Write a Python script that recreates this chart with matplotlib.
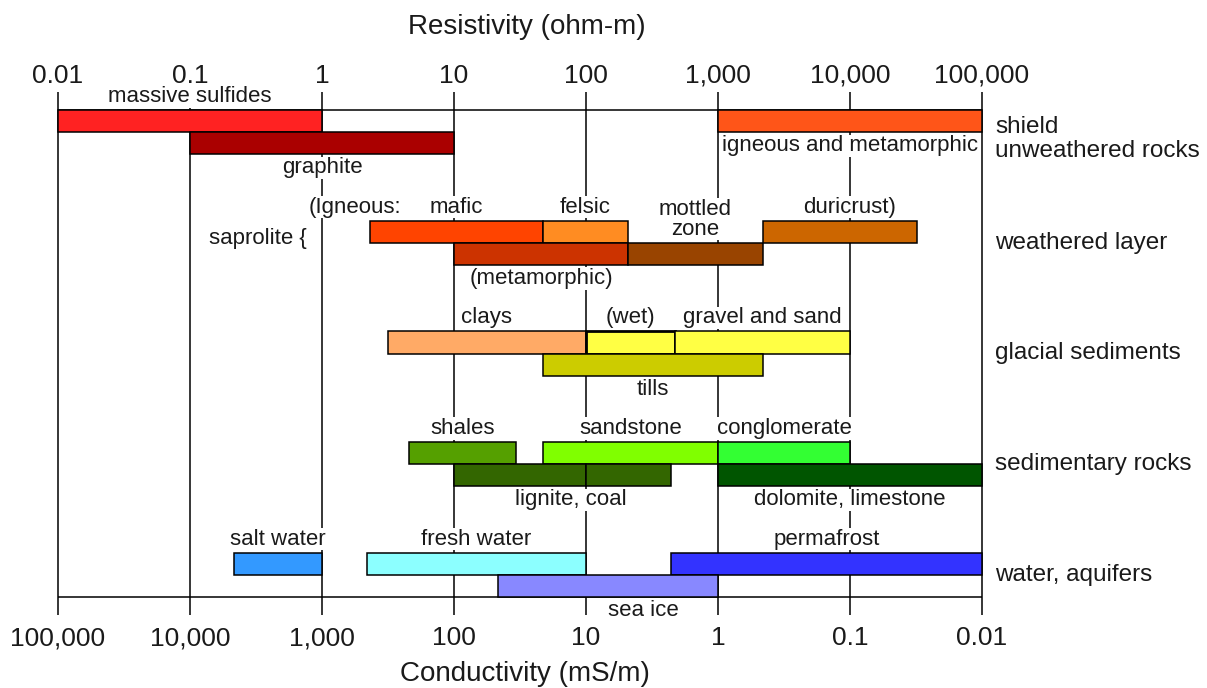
import matplotlib
matplotlib.use("Agg")
import matplotlib.pyplot as plt
import matplotlib.transforms as mtransforms
from matplotlib.ticker import NullLocator

plt.rcParams['font.family'] = ['Liberation Sans', 'DejaVu Sans']

#********data*********
# resistivity decades (ohm-m)
decades = [0.01, 0.1, 1, 10, 100, 1000, 10000, 100000]

group_names = ["shield\nunweathered rocks", "weathered layer", "glacial sediments",
               "sedimentary rocks", "water, aquifers"]

bar_names = ["massive sulfides", "graphite", "igneous and metamorphic",
             "mafic", "felsic", "(metamorphic)", "mottled\nzone", "duricrust)",
             "clays", "(wet)", "gravel and sand", "tills",
             "shales", "sandstone", "conglomerate", "lignite, coal", "", "dolomite, limestone",
             "salt water", "fresh water", "permafrost", "sea ice"]
bar_group = [0, 0, 0,
             1, 1, 1, 1, 1,
             2, 2, 2, 2,
             3, 3, 3, 3, 3, 3,
             4, 4, 4, 4]
bar_level = [0, 1, 0,
             0, 0, 1, 1, 0,
             0, 0, 0, 1,
             0, 0, 0, 1, 1, 1,
             0, 0, 0, 1]
bar_lo = [0.01, 0.1, 1000,
          2.3, 47, 10, 208, 2190,
          3.16, 100, 470, 47,
          4.6, 47, 1000, 10, 100, 1000,
          0.215, 2.2, 440, 21.5]
bar_hi = [1, 10, 100000,
          47, 208, 208, 2190, 32200,
          100, 470, 10000, 2190,
          29.5, 1000, 10000, 100, 440, 100000,
          1, 100, 100000, 1000]

# extra notes in the weathered layer
note_texts = ["(Igneous:", "saprolite {"]
note_res = [1.78, 0.327]

#********styles*********
bar_colors = ["#ff2222", "#aa0000", "#ff5518",
              "#ff4400", "#ff8c22", "#cc3300", "#994400", "#cc6600",
              "#ffaa66", "#ffff44", "#ffff44", "#cccc00",
              "#55a000", "#80ff00", "#33ff33", "#336600", "#336600", "#005500",
              "#3399ff", "#8cffff", "#3333ff", "#8888ff"]
bar_lw = [1.1] * len(bar_names)
bar_lw[9] = 2.0
label_side = ["above", "below", "below",
              "above", "above", "below", "above", "above",
              "above", "above", "above", "below",
              "above", "above", "above", "below", "below", "below",
              "above", "above", "above", "below"]
label_x_override = {"duricrust)": 10000, "lignite, coal": 77, "sea ice": 270}

text_color = "#1a1a1a"
white_box = dict(facecolor="white", edgecolor="none", pad=0.5)


def fmt(v):
    if v >= 1:
        return f"{v:,.0f}"
    return f"{v:g}"


fig = plt.figure(figsize=(12.07, 6.88), dpi=100)
ax = fig.add_axes([58 / 1207, 91 / 688, 924 / 1207, 487 / 688])
ax.set_xscale("log")
ax.set_xlim(decades[0], decades[-1])
ax.set_ylim(22, 0)
for s in ax.spines.values():
    s.set_visible(False)

# grid frame
ax.vlines(decades, -0.8, 22.8, color="black", lw=1.1, zorder=1, clip_on=False)
ax.hlines([0, 22], decades[0], decades[-1], color="black", lw=1.1, zorder=1, clip_on=False)

# bars
for i, name in enumerate(bar_names):
    top = 5 * bar_group[i] + bar_level[i]
    ax.barh(top + 0.5, bar_hi[i] - bar_lo[i], left=bar_lo[i], height=1,
            color=bar_colors[i], edgecolor="black", linewidth=bar_lw[i], zorder=2,
            clip_on=False)
    if not name:
        continue
    x = label_x_override.get(name, (bar_lo[i] * bar_hi[i]) ** 0.5)
    if label_side[i] == "above":
        ax.annotate(name, (x, top), xytext=(0, 2.2), textcoords="offset points",
                    ha="center", va="bottom", fontsize=16, color=text_color,
                    linespacing=0.95, bbox=white_box, zorder=3)
    else:
        ax.annotate(name, (x, top + 1), xytext=(0, -2.2), textcoords="offset points",
                    ha="center", va="top", fontsize=16, color=text_color,
                    bbox=white_box, zorder=3)

# notes
ax.annotate(note_texts[0], (note_res[0], 5), xytext=(0, 2.2), textcoords="offset points",
            ha="center", va="bottom", fontsize=16, color=text_color, bbox=white_box, zorder=3)
ax.text(note_res[1], 5.8, note_texts[1], ha="center", va="center", fontsize=16,
        color=text_color, bbox=white_box, zorder=3)

# group labels on the right
trans = mtransforms.blended_transform_factory(ax.transAxes, ax.transData)
for g, gname in enumerate(group_names):
    y = 5 * g + 1 + (0.3 if "\n" in gname else 0)
    ax.text(1.014, y, gname, transform=trans, ha="left", va="center",
            fontsize=17.5, color=text_color, linespacing=1.15)

# top axis: resistivity
ax.set_yticks([])
ax.xaxis.set_minor_locator(NullLocator())
ax.set_xticks(decades, labels=[fmt(v) for v in decades])
ax.tick_params(axis="x", bottom=False, labelbottom=False, top=True, labeltop=True,
               length=0, pad=16, labelsize=19, labelcolor=text_color)

# bottom axis: conductivity (mS/m) = 1000 / resistivity
sec = ax.secondary_xaxis("bottom")
sec.xaxis.set_minor_locator(NullLocator())
sec.set_xticks(decades, labels=[fmt(1000 / v) for v in decades])
sec.tick_params(axis="x", length=0, pad=21, labelsize=19, labelcolor=text_color)
sec.spines["bottom"].set_visible(False)

ax.text(0.507, 1.1704, "Resistivity (ohm-m)", transform=ax.transAxes, ha="center",
        va="center", fontsize=20, color=text_color)
ax.text(0.505, -0.158, "Conductivity (mS/m)", transform=ax.transAxes, ha="center",
        va="center", fontsize=20, color=text_color)

fig.savefig("out.png", dpi=100)
